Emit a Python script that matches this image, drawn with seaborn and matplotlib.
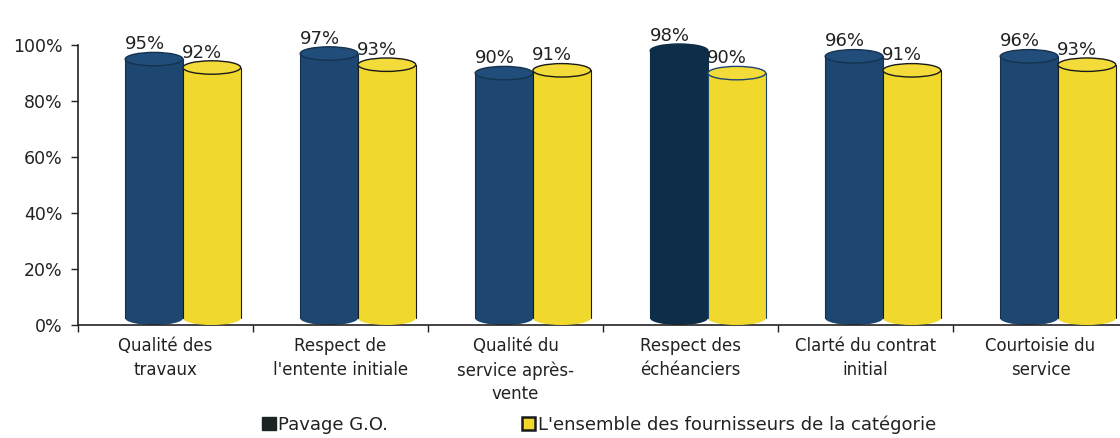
import pandas as pd
import matplotlib.pyplot as plt
import seaborn as sns
from matplotlib.patches import Ellipse, Patch

sns.set_theme(style="white")
plt.rcParams['font.family'] = ['DejaVu Sans']

# Données
categories = ["Qualité des\ntravaux", "Respect de\nl'entente initiale",
              "Qualité du\nservice après-\nvente", "Respect des\néchéanciers",
              "Clarté du contrat\ninitial", "Courtoisie du\nservice"]
series = ["Pavage G.O.", "L'ensemble des fournisseurs de la catégorie"]
pavage = [95, 97, 90, 98, 96, 96]
ensemble = [92, 93, 91, 90, 91, 93]

df = pd.DataFrame({
    "categorie": categories * 2,
    "serie": [series[0]] * len(categories) + [series[1]] * len(categories),
    "valeur": pavage + ensemble,
})

blue = "#1d4670"
blue_dark = "#0e2d49"
yellow = "#f0d82c"
edge_dark = "#1a1a1a"
txt = "#222222"

fig = plt.figure(figsize=(11.2, 4.38), dpi=100)
ax = fig.add_axes([0.0696, 0.258, 0.9375, 0.639])

sns.barplot(data=df, x="categorie", y="valeur", hue="serie",
            palette=[blue, yellow], width=0.66, ax=ax, legend=False,
            saturation=1)

ax.set_xlim(-0.5, 5.5)
ax.set_ylim(0, 100)
eh = 4.8  # hauteur des ellipses (unités de données)

for k, cont in enumerate(ax.containers):
    for i, bar in enumerate(cont.patches):
        bar.set_x(bar.get_x() + 0.1)
        h = bar.get_height()
        x0, w = bar.get_x(), bar.get_width()
        cx = x0 + w / 2
        z = 2 + k
        if k == 0:
            face = blue_dark if i == 3 else blue
            top_face = blue_dark if i == 3 else "#214d7b"
            ec = blue_dark if i == 3 else "#15324f"
        else:
            face = yellow
            top_face = "#f3dc3a"
            ec = "#1f4670" if i == 3 else edge_dark
        bar.set_facecolor(face)
        bar.set_edgecolor("none")
        bar.set_y(eh / 2)
        bar.set_height(h - eh / 2)
        bar.set_zorder(z)
        # fond arrondi
        ax.add_patch(Ellipse((cx, eh / 2), w, eh, facecolor=face,
                             edgecolor="none", zorder=z, clip_on=False))
        # côtés
        ax.plot([x0, x0], [eh / 2, h], color=ec, lw=0.8, zorder=z + 0.1)
        ax.plot([x0 + w, x0 + w], [eh / 2, h], color=ec, lw=0.8, zorder=z + 0.1)
        # dessus
        ax.add_patch(Ellipse((cx, h), w, eh, facecolor=top_face,
                             edgecolor=ec, lw=1.0, zorder=z + 0.2, clip_on=False))
        ax.text(cx - 0.055, h + eh / 2 - 0.3, f"{h:.0f}%", ha="center", va="bottom",
                fontsize=13, color=txt, zorder=10, clip_on=False)

# Axes
ax.set_yticks(range(0, 101, 20))
ax.set_yticklabels([f"{v}%" for v in range(0, 101, 20)], fontsize=12.5, color=txt)
ax.set_xticks(range(len(categories)))
ax.set_xticklabels(categories, fontsize=12, color=txt, linespacing=1.38)
ax.set_xticks([i - 0.5 for i in range(len(categories) + 1)], minor=True)
ax.tick_params(axis="x", which="major", bottom=False, length=0, pad=9)
ax.tick_params(axis="x", which="minor", bottom=True, length=5, width=1,
               color=txt, direction="out")
ax.tick_params(axis="y", left=True, length=5, width=1, color=txt,
               direction="out", pad=6)
ax.set_xlabel("")
ax.set_ylabel("")
sns.despine(ax=ax, top=True, right=True)
for s in ["left", "bottom"]:
    ax.spines[s].set_color(txt)
    ax.spines[s].set_linewidth(1.2)

handles = [Patch(facecolor="#1a2424", edgecolor="#1a2424"),
           Patch(facecolor=yellow, edgecolor="#1a1a1a", linewidth=1.8)]
fig.legend(handles, series, loc="center", bbox_to_anchor=(0.535, 0.03), ncol=2,
           frameon=False, fontsize=13, handlelength=0.75, handleheight=0.75,
           handletextpad=0.15, columnspacing=7.4, labelcolor=txt)

fig.savefig("out.png", dpi=100)
